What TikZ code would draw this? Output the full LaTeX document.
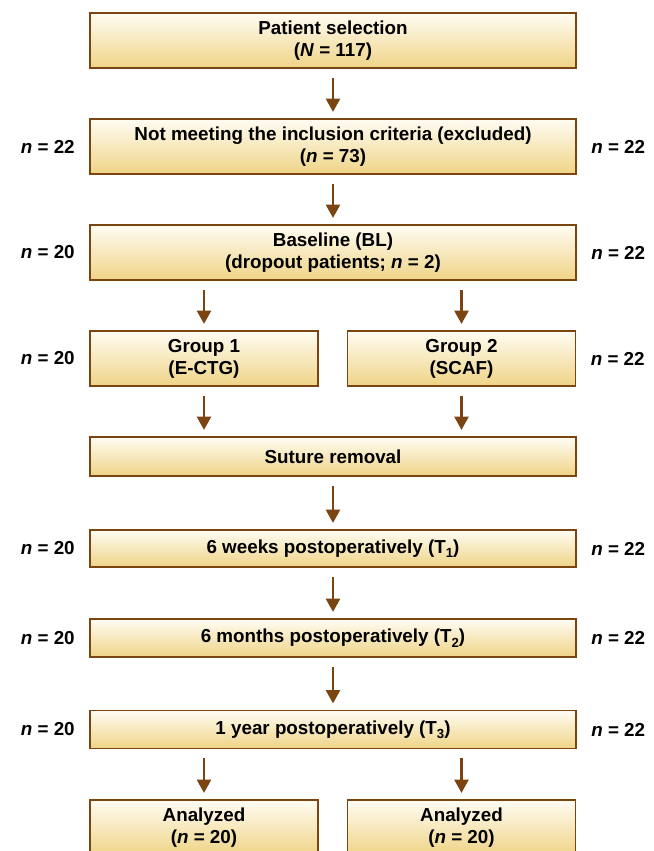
\documentclass[tikz,border=0pt]{standalone}
\usepackage{fontspec}
\setmainfont{Liberation Sans}
\usetikzlibrary{arrows.meta,positioning}
\definecolor{cEdge}{HTML}{7A4511}
\definecolor{cTop}{HTML}{FFFCF3}
\definecolor{cBot}{HTML}{EFD487}
\tikzset{
  >={Triangle[length=7.5pt,width=8pt]},
  box/.style ={draw=cEdge,line width=1.1pt,top color=cTop,bottom color=cBot,
               align=center,inner sep=2pt,font=\fontsize{10.7}{12.5}\selectfont\bfseries},
  wbox/.style={box,minimum width=9.72cm},
  hbox/.style={box,minimum width=4.56cm},
  ar/.style  ={->,line width=1.2pt,cEdge,shorten <=5pt,shorten >=3.5pt},
  lbl/.style ={font=\fontsize{10.7}{12.5}\selectfont\bfseries,inner sep=0pt},
}
\newcommand{\tsub}[1]{\raisebox{-0.45ex}{\fontsize{7.5}{8}\selectfont #1}}
\newcommand{\nval}[2]{(\textit{#1} = #2)}
\begin{document}
\begin{tikzpicture}
\useasboundingbox (0,0) rectangle (13.08,-17.02);
\clip (0,0) rectangle (13.08,-17.02);
% main column
\node[wbox,minimum height=1.1cm]  (sel)  at (6.66,-0.81)  {Patient selection\\\nval{N}{117}};
\node[wbox,minimum height=1.1cm]  (excl) at (6.66,-2.93)  {Not meeting the inclusion criteria (excluded)\\\nval{n}{73}};
\node[wbox,minimum height=1.1cm]  (bl)   at (6.66,-5.05)  {Baseline (BL)\\(dropout patients; \textit{n} = 2)};
\node[hbox,minimum height=1.1cm]  (g1)   at (4.08,-7.17)  {Group 1\\(E-CTG)};
\node[hbox,minimum height=1.1cm]  (g2)   at (9.23,-7.17)  {Group 2\\(SCAF)};
\node[wbox,minimum height=0.78cm] (sut)  at (6.66,-9.13)  {Suture removal};
\node[wbox,minimum height=0.74cm] (t1)   at (6.66,-10.97) {6 weeks postoperatively (T\tsub{1})};
\node[wbox,minimum height=0.76cm] (t2)   at (6.66,-12.76) {6 months postoperatively (T\tsub{2})};
\node[wbox,minimum height=0.76cm] (t3)   at (6.66,-14.59) {1 year postoperatively (T\tsub{3})};
\node[hbox,minimum height=1.1cm]  (a1)   at (4.08,-16.55) {Analyzed\\\nval{n}{20}};
\node[hbox,minimum height=1.1cm]  (a2)   at (9.23,-16.55) {Analyzed\\\nval{n}{20}};
% side counts
\node[lbl,left=0.28cm of excl]  (le) {\textit{n} = 22};
\node[lbl,right=0.28cm of excl] (re) {\textit{n} = 22};
\node[lbl,left=0.28cm of bl]    (lb) {\textit{n} = 20};
\node[lbl,right=0.28cm of bl]   (rb) {\textit{n} = 22};
\node[lbl,left=0.28cm of g1]    (lg) {\textit{n} = 20};
\node[lbl,right=0.28cm of g2]   (rg) {\textit{n} = 22};
\node[lbl,left=0.28cm of t1]    (l1) {\textit{n} = 20};
\node[lbl,right=0.28cm of t1]   (r1) {\textit{n} = 22};
\node[lbl,left=0.28cm of t2]    (l2) {\textit{n} = 20};
\node[lbl,right=0.28cm of t2]   (r2) {\textit{n} = 22};
\node[lbl,left=0.28cm of t3]    (l3) {\textit{n} = 20};
\node[lbl,right=0.28cm of t3]   (r3) {\textit{n} = 22};
% arrows
\draw[ar] (sel) -- (excl);
\draw[ar] (excl) -- (bl);
\draw[ar] (bl.south -| g1.north) -- (g1.north);
\draw[ar] (bl.south -| g2.north) -- (g2.north);
\draw[ar] (g1.south) -- (sut.north -| g1.south);
\draw[ar] (g2.south) -- (sut.north -| g2.south);
\draw[ar] (sut) -- (t1);
\draw[ar] (t1) -- (t2);
\draw[ar] (t2) -- (t3);
\draw[ar] (t3.south -| a1.north) -- (a1.north);
\draw[ar] (t3.south -| a2.north) -- (a2.north);
\end{tikzpicture}
\end{document}
